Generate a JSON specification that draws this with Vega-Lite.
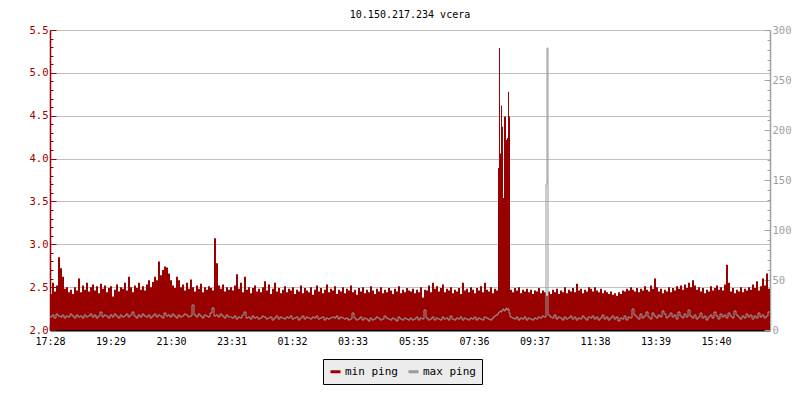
{
"$schema": "https://vega.github.io/schema/vega-lite/v6.json",
"autosize": {"type": "none"},
"padding": {"left": 50, "top": 30, "right": 30, "bottom": 70},
"width": 720,
"height": 300,
"title": {"text": "10.150.217.234 vcera", "font": "DejaVu Sans Mono", "fontSize": 10, "fontWeight": "normal", "color": "black", "anchor": "middle", "offset": 5},
"config": {"view": {"stroke": null}, "font": "DejaVu Sans Mono"},
"data": {"values": [
{"m":0,"mn":2.42,"mx":13},{"m":4,"mn":2.55,"mx":15},{"m":8,"mn":2.45,"mx":12},{"m":12,"mn":2.52,"mx":16},{"m":16,"mn":2.85,"mx":14},{"m":20,"mn":2.72,"mx":13},{"m":24,"mn":2.62,"mx":15},{"m":28,"mn":2.48,"mx":12},{"m":32,"mn":2.50,"mx":14},{"m":36,"mn":2.44,"mx":13},
{"m":40,"mn":2.47,"mx":16},{"m":44,"mn":2.42,"mx":14},{"m":48,"mn":2.50,"mx":12},{"m":52,"mn":2.46,"mx":15},{"m":56,"mn":2.60,"mx":13},{"m":60,"mn":2.44,"mx":14},{"m":64,"mn":2.52,"mx":12},{"m":68,"mn":2.47,"mx":15},{"m":72,"mn":2.55,"mx":13},{"m":76,"mn":2.45,"mx":14},
{"m":80,"mn":2.50,"mx":16},{"m":84,"mn":2.53,"mx":13},{"m":88,"mn":2.46,"mx":15},{"m":92,"mn":2.51,"mx":12},{"m":96,"mn":2.43,"mx":14},{"m":100,"mn":2.54,"mx":18},{"m":104,"mn":2.48,"mx":13},{"m":108,"mn":2.52,"mx":15},{"m":112,"mn":2.44,"mx":14},{"m":116,"mn":2.49,"mx":12},
{"m":120,"mn":2.51,"mx":15},{"m":124,"mn":2.39,"mx":13},{"m":128,"mn":2.47,"mx":16},{"m":132,"mn":2.53,"mx":14},{"m":136,"mn":2.45,"mx":12},{"m":140,"mn":2.50,"mx":15},{"m":144,"mn":2.48,"mx":13},{"m":148,"mn":2.55,"mx":14},{"m":152,"mn":2.46,"mx":16},{"m":156,"mn":2.62,"mx":13},
{"m":160,"mn":2.50,"mx":15},{"m":164,"mn":2.44,"mx":18},{"m":168,"mn":2.52,"mx":14},{"m":172,"mn":2.49,"mx":12},{"m":176,"mn":2.55,"mx":15},{"m":180,"mn":2.47,"mx":13},{"m":184,"mn":2.51,"mx":16},{"m":188,"mn":2.46,"mx":14},{"m":192,"mn":2.53,"mx":13},{"m":196,"mn":2.58,"mx":15},
{"m":200,"mn":2.50,"mx":12},{"m":204,"mn":2.56,"mx":14},{"m":208,"mn":2.62,"mx":16},{"m":212,"mn":2.58,"mx":13},{"m":216,"mn":2.80,"mx":15},{"m":220,"mn":2.64,"mx":14},{"m":224,"mn":2.70,"mx":12},{"m":228,"mn":2.74,"mx":17},{"m":232,"mn":2.73,"mx":14},{"m":236,"mn":2.66,"mx":15},
{"m":240,"mn":2.58,"mx":13},{"m":244,"mn":2.52,"mx":16},{"m":248,"mn":2.49,"mx":14},{"m":252,"mn":2.62,"mx":12},{"m":256,"mn":2.58,"mx":15},{"m":260,"mn":2.50,"mx":13},{"m":264,"mn":2.53,"mx":14},{"m":268,"mn":2.46,"mx":16},{"m":272,"mn":2.55,"mx":15},{"m":276,"mn":2.48,"mx":13},
{"m":280,"mn":2.59,"mx":14},{"m":284,"mn":2.50,"mx":25},{"m":288,"mn":2.45,"mx":15},{"m":292,"mn":2.52,"mx":13},{"m":296,"mn":2.48,"mx":16},{"m":300,"mn":2.54,"mx":14},{"m":304,"mn":2.44,"mx":12},{"m":308,"mn":2.50,"mx":15},{"m":312,"mn":2.47,"mx":14},{"m":316,"mn":2.51,"mx":13},
{"m":320,"mn":2.49,"mx":17},{"m":324,"mn":2.46,"mx":22},{"m":328,"mn":3.07,"mx":14},{"m":332,"mn":2.78,"mx":15},{"m":336,"mn":2.52,"mx":13},{"m":340,"mn":2.48,"mx":16},{"m":344,"mn":2.53,"mx":14},{"m":348,"mn":2.45,"mx":12},{"m":352,"mn":2.50,"mx":15},{"m":356,"mn":2.47,"mx":13},
{"m":360,"mn":2.50,"mx":13},{"m":364,"mn":2.46,"mx":12},{"m":368,"mn":2.52,"mx":14},{"m":372,"mn":2.65,"mx":11},{"m":376,"mn":2.48,"mx":13},{"m":380,"mn":2.55,"mx":12},{"m":384,"mn":2.44,"mx":15},{"m":388,"mn":2.62,"mx":18},{"m":392,"mn":2.47,"mx":12},{"m":396,"mn":2.50,"mx":13},
{"m":400,"mn":2.43,"mx":11},{"m":404,"mn":2.49,"mx":14},{"m":408,"mn":2.52,"mx":12},{"m":412,"mn":2.45,"mx":13},{"m":416,"mn":2.48,"mx":11},{"m":420,"mn":2.44,"mx":12},{"m":424,"mn":2.50,"mx":14},{"m":428,"mn":2.57,"mx":13},{"m":432,"mn":2.46,"mx":11},{"m":436,"mn":2.53,"mx":12},
{"m":440,"mn":2.42,"mx":13},{"m":444,"mn":2.48,"mx":10},{"m":448,"mn":2.55,"mx":12},{"m":452,"mn":2.45,"mx":14},{"m":456,"mn":2.49,"mx":11},{"m":460,"mn":2.43,"mx":13},{"m":464,"mn":2.47,"mx":12},{"m":468,"mn":2.51,"mx":11},{"m":472,"mn":2.44,"mx":13},{"m":476,"mn":2.48,"mx":12},
{"m":480,"mn":2.46,"mx":14},{"m":484,"mn":2.50,"mx":11},{"m":488,"mn":2.42,"mx":12},{"m":492,"mn":2.47,"mx":13},{"m":496,"mn":2.45,"mx":10},{"m":500,"mn":2.52,"mx":12},{"m":504,"mn":2.43,"mx":14},{"m":508,"mn":2.49,"mx":11},{"m":512,"mn":2.46,"mx":13},{"m":516,"mn":2.44,"mx":12},
{"m":520,"mn":2.50,"mx":11},{"m":524,"mn":2.41,"mx":13},{"m":528,"mn":2.47,"mx":12},{"m":532,"mn":2.52,"mx":14},{"m":536,"mn":2.45,"mx":11},{"m":540,"mn":2.49,"mx":12},{"m":544,"mn":2.43,"mx":13},{"m":548,"mn":2.47,"mx":10},{"m":552,"mn":2.53,"mx":12},{"m":556,"mn":2.44,"mx":11},
{"m":560,"mn":2.48,"mx":12},{"m":564,"mn":2.46,"mx":13},{"m":568,"mn":2.51,"mx":12},{"m":572,"mn":2.42,"mx":14},{"m":576,"mn":2.47,"mx":11},{"m":580,"mn":2.45,"mx":13},{"m":584,"mn":2.50,"mx":12},{"m":588,"mn":2.43,"mx":11},{"m":592,"mn":2.48,"mx":12},{"m":596,"mn":2.46,"mx":10},
{"m":600,"mn":2.52,"mx":11},{"m":604,"mn":2.44,"mx":17},{"m":608,"mn":2.47,"mx":12},{"m":612,"mn":2.41,"mx":10},{"m":616,"mn":2.49,"mx":11},{"m":620,"mn":2.45,"mx":13},{"m":624,"mn":2.50,"mx":10},{"m":628,"mn":2.43,"mx":12},{"m":632,"mn":2.47,"mx":11},{"m":636,"mn":2.44,"mx":9},
{"m":640,"mn":2.51,"mx":12},{"m":644,"mn":2.46,"mx":10},{"m":648,"mn":2.42,"mx":11},{"m":652,"mn":2.48,"mx":13},{"m":656,"mn":2.45,"mx":12},{"m":660,"mn":2.50,"mx":10},{"m":664,"mn":2.43,"mx":11},{"m":668,"mn":2.47,"mx":14},{"m":672,"mn":2.44,"mx":12},{"m":676,"mn":2.49,"mx":11},
{"m":680,"mn":2.46,"mx":10},{"m":684,"mn":2.42,"mx":12},{"m":688,"mn":2.48,"mx":11},{"m":692,"mn":2.45,"mx":9},{"m":696,"mn":2.51,"mx":13},{"m":700,"mn":2.43,"mx":11},{"m":704,"mn":2.47,"mx":10},{"m":708,"mn":2.44,"mx":12},{"m":712,"mn":2.49,"mx":11},{"m":716,"mn":2.46,"mx":10},
{"m":720,"mn":2.45,"mx":12},{"m":724,"mn":2.48,"mx":10},{"m":728,"mn":2.43,"mx":11},{"m":732,"mn":2.47,"mx":13},{"m":736,"mn":2.44,"mx":10},{"m":740,"mn":2.50,"mx":12},{"m":744,"mn":2.38,"mx":11},{"m":748,"mn":2.47,"mx":20},{"m":752,"mn":2.46,"mx":12},{"m":756,"mn":2.52,"mx":10},
{"m":760,"mn":2.44,"mx":11},{"m":764,"mn":2.55,"mx":13},{"m":768,"mn":2.48,"mx":10},{"m":772,"mn":2.51,"mx":12},{"m":776,"mn":2.45,"mx":11},{"m":780,"mn":2.49,"mx":10},{"m":784,"mn":2.53,"mx":13},{"m":788,"mn":2.44,"mx":11},{"m":792,"mn":2.48,"mx":12},{"m":796,"mn":2.46,"mx":10},
{"m":800,"mn":2.50,"mx":14},{"m":804,"mn":2.43,"mx":11},{"m":808,"mn":2.47,"mx":10},{"m":812,"mn":2.45,"mx":12},{"m":816,"mn":2.49,"mx":11},{"m":820,"mn":2.42,"mx":13},{"m":824,"mn":2.55,"mx":10},{"m":828,"mn":2.46,"mx":12},{"m":832,"mn":2.48,"mx":11},{"m":836,"mn":2.44,"mx":10},
{"m":840,"mn":2.50,"mx":12},{"m":844,"mn":2.47,"mx":11},{"m":848,"mn":2.43,"mx":13},{"m":852,"mn":2.49,"mx":10},{"m":856,"mn":2.46,"mx":12},{"m":860,"mn":2.51,"mx":11},{"m":864,"mn":2.44,"mx":10},{"m":868,"mn":2.55,"mx":13},{"m":872,"mn":2.47,"mx":12},{"m":876,"mn":2.45,"mx":11},
{"m":880,"mn":2.50,"mx":10},{"m":884,"mn":2.43,"mx":12},{"m":888,"mn":2.48,"mx":14},{"m":892,"mn":2.46,"mx":15},
{"m":896,"mn":3.89,"mx":17},{"m":898,"mn":5.29,"mx":18},{"m":900,"mn":4.06,"mx":19},{"m":902,"mn":4.62,"mx":18},{"m":904,"mn":4.37,"mx":20},{"m":906,"mn":3.54,"mx":21},{"m":908,"mn":4.49,"mx":19},{"m":910,"mn":4.49,"mx":20},{"m":912,"mn":4.22,"mx":22},{"m":914,"mn":4.24,"mx":20},{"m":916,"mn":4.78,"mx":21},{"m":918,"mn":4.49,"mx":17},
{"m":920,"mn":2.47,"mx":13},{"m":924,"mn":2.44,"mx":12},{"m":928,"mn":2.49,"mx":11},{"m":932,"mn":2.46,"mx":13},{"m":936,"mn":2.50,"mx":10},{"m":940,"mn":2.43,"mx":12},{"m":944,"mn":2.47,"mx":11},{"m":948,"mn":2.45,"mx":13},{"m":952,"mn":2.48,"mx":10},{"m":956,"mn":2.44,"mx":12},
{"m":960,"mn":2.47,"mx":11},{"m":964,"mn":2.42,"mx":10},{"m":968,"mn":2.46,"mx":12},{"m":972,"mn":2.45,"mx":11},{"m":976,"mn":2.49,"mx":13},{"m":980,"mn":2.43,"mx":12},{"m":984,"mn":2.46,"mx":14},{"m":988,"mn":2.44,"mx":13},{"m":992,"mn":2.40,"mx":146},{"m":994,"mn":2.40,"mx":282},{"m":996,"mn":2.45,"mx":15},
{"m":1000,"mn":2.42,"mx":13},{"m":1004,"mn":2.47,"mx":12},{"m":1008,"mn":2.44,"mx":15},{"m":1012,"mn":2.48,"mx":11},{"m":1016,"mn":2.42,"mx":13},{"m":1020,"mn":2.46,"mx":12},{"m":1024,"mn":2.44,"mx":10},{"m":1028,"mn":2.50,"mx":13},{"m":1032,"mn":2.43,"mx":11},{"m":1036,"mn":2.47,"mx":12},
{"m":1040,"mn":2.45,"mx":14},{"m":1044,"mn":2.49,"mx":11},{"m":1048,"mn":2.44,"mx":13},{"m":1052,"mn":2.54,"mx":10},{"m":1056,"mn":2.46,"mx":12},{"m":1060,"mn":2.48,"mx":11},{"m":1064,"mn":2.43,"mx":14},{"m":1068,"mn":2.47,"mx":12},{"m":1072,"mn":2.45,"mx":10},{"m":1076,"mn":2.50,"mx":13},
{"m":1080,"mn":2.48,"mx":12},{"m":1084,"mn":2.45,"mx":14},{"m":1088,"mn":2.50,"mx":11},{"m":1092,"mn":2.46,"mx":13},{"m":1096,"mn":2.44,"mx":10},{"m":1100,"mn":2.48,"mx":12},{"m":1104,"mn":2.43,"mx":15},{"m":1108,"mn":2.46,"mx":11},{"m":1112,"mn":2.44,"mx":13},{"m":1116,"mn":2.42,"mx":10},
{"m":1120,"mn":2.45,"mx":12},{"m":1124,"mn":2.41,"mx":14},{"m":1128,"mn":2.43,"mx":11},{"m":1132,"mn":2.40,"mx":13},{"m":1136,"mn":2.44,"mx":9},{"m":1140,"mn":2.42,"mx":12},{"m":1144,"mn":2.46,"mx":11},{"m":1148,"mn":2.45,"mx":14},{"m":1152,"mn":2.48,"mx":10},{"m":1156,"mn":2.46,"mx":13},
{"m":1160,"mn":2.50,"mx":12},{"m":1164,"mn":2.47,"mx":21},{"m":1168,"mn":2.45,"mx":15},{"m":1172,"mn":2.49,"mx":13},{"m":1176,"mn":2.44,"mx":11},{"m":1180,"mn":2.48,"mx":16},{"m":1184,"mn":2.46,"mx":12},{"m":1188,"mn":2.51,"mx":14},{"m":1192,"mn":2.47,"mx":18},{"m":1196,"mn":2.45,"mx":13},
{"m":1200,"mn":2.52,"mx":11},{"m":1204,"mn":2.48,"mx":17},{"m":1208,"mn":2.60,"mx":14},{"m":1212,"mn":2.50,"mx":12},{"m":1216,"mn":2.45,"mx":15},{"m":1220,"mn":2.48,"mx":13},{"m":1224,"mn":2.43,"mx":19},{"m":1228,"mn":2.47,"mx":16},{"m":1232,"mn":2.45,"mx":12},{"m":1236,"mn":2.50,"mx":14},
{"m":1240,"mn":2.44,"mx":17},{"m":1244,"mn":2.49,"mx":13},{"m":1248,"mn":2.46,"mx":15},{"m":1252,"mn":2.51,"mx":11},{"m":1256,"mn":2.48,"mx":18},{"m":1260,"mn":2.52,"mx":14},{"m":1264,"mn":2.47,"mx":12},{"m":1268,"mn":2.53,"mx":16},{"m":1272,"mn":2.49,"mx":13},{"m":1276,"mn":2.55,"mx":20},
{"m":1280,"mn":2.50,"mx":14},{"m":1284,"mn":2.58,"mx":12},{"m":1288,"mn":2.52,"mx":15},{"m":1292,"mn":2.47,"mx":11},{"m":1296,"mn":2.50,"mx":13},{"m":1300,"mn":2.45,"mx":17},{"m":1304,"mn":2.49,"mx":12},{"m":1308,"mn":2.43,"mx":14},{"m":1312,"mn":2.47,"mx":10},{"m":1316,"mn":2.45,"mx":13},
{"m":1320,"mn":2.51,"mx":15},{"m":1324,"mn":2.46,"mx":12},{"m":1328,"mn":2.49,"mx":18},{"m":1332,"mn":2.52,"mx":14},{"m":1336,"mn":2.47,"mx":11},{"m":1340,"mn":2.50,"mx":16},{"m":1344,"mn":2.46,"mx":13},{"m":1348,"mn":2.53,"mx":15},{"m":1352,"mn":2.76,"mx":12},{"m":1356,"mn":2.55,"mx":17},
{"m":1360,"mn":2.45,"mx":14},{"m":1364,"mn":2.49,"mx":12},{"m":1368,"mn":2.43,"mx":19},{"m":1372,"mn":2.47,"mx":15},{"m":1376,"mn":2.45,"mx":13},{"m":1380,"mn":2.50,"mx":11},{"m":1384,"mn":2.44,"mx":14},{"m":1388,"mn":2.48,"mx":12},{"m":1392,"mn":2.46,"mx":16},{"m":1396,"mn":2.50,"mx":13},
{"m":1400,"mn":2.47,"mx":15},{"m":1404,"mn":2.53,"mx":11},{"m":1408,"mn":2.49,"mx":14},{"m":1412,"mn":2.57,"mx":12},{"m":1416,"mn":2.46,"mx":17},{"m":1420,"mn":2.51,"mx":13},{"m":1424,"mn":2.60,"mx":15},{"m":1428,"mn":2.52,"mx":12},{"m":1432,"mn":2.66,"mx":14},{"m":1436,"mn":2.48,"mx":18},
{"m":1440,"mn":2.48,"mx":18}
]},
"layer": [
{
"mark": {"type": "area", "interpolate": "step-after", "color": "#990000", "clip": true},
"encoding": {
"x": {"field": "m", "type": "quantitative", "scale": {"domain": [0, 1440], "nice": false, "zero": false},
"axis": {"title": null, "values": [0,121,242,363,484,605,727,848,969,1090,1211,1332],
"labelExpr": "timeFormat(datetime(2000,0,1,17,28+datum.value),'%H:%M')",
"grid": false, "domainColor": "black", "domainWidth": 2, "tickColor": "black", "tickSize": -5, "tickWidth": 1.5,
"labelColor": "black", "labelFont": "DejaVu Sans Mono", "labelFontSize": 10, "labelPadding": 11, "labelFlush": false}},
"y": {"field": "mn", "type": "quantitative", "scale": {"domain": [2, 5.5], "nice": false, "zero": false},
"axis": {"title": null, "values": [2,2.1,2.2,2.3,2.4,2.5,2.6,2.7,2.8,2.9,3,3.1,3.2,3.3,3.4,3.5,3.6,3.7,3.8,3.9,4,4.1,4.2,4.3,4.4,4.5,4.6,4.7,4.8,4.9,5,5.1,5.2,5.3,5.4,5.5],
"labelExpr": "abs(datum.value*2-round(datum.value*2))<0.01 ? format(datum.value,'.1f') : ''",
"grid": true, "gridColor": "#c0c0c0", "gridWidth": 1,
"gridOpacity": {"condition": {"test": "abs(datum.value*2-round(datum.value*2))<0.01", "value": 1}, "value": 0},
"tickSize": {"condition": {"test": "abs(datum.value*2-round(datum.value*2))<0.01", "value": -6}, "value": -3},
"domainColor": "#990000", "domainWidth": 1.5, "tickColor": "#990000", "labelColor": "#990000",
"labelFont": "DejaVu Sans Mono", "labelFontSize": 10.5, "labelPadding": 8, "labelFlush": false}},
"y2": {"datum": 2}
}
},
{
"mark": {"type": "line", "interpolate": "step-after", "strokeWidth": 1, "clip": true},
"encoding": {
"x": {"field": "m", "type": "quantitative"},
"y": {"field": "mx", "type": "quantitative", "scale": {"domain": [0, 300], "nice": false, "zero": true},
"axis": {"title": null, "orient": "right", "values": [0,10,20,30,40,50,60,70,80,90,100,110,120,130,140,150,160,170,180,190,200,210,220,230,240,250,260,270,280,290,300],
"labelExpr": "datum.value % 50 == 0 ? datum.value : ''", "grid": false,
"tickSize": {"condition": {"test": "datum.value % 50 == 0", "value": -6}, "value": -3},
"domainColor": "#a0a0a0", "domainWidth": 1.5, "tickColor": "#a0a0a0", "labelColor": "#a0a0a0",
"labelFont": "DejaVu Sans Mono", "labelFontSize": 10.5, "labelPadding": 8, "labelFlush": false}},
"color": {"datum": "max ping", "type": "nominal",
"scale": {"domain": ["min ping", "max ping"], "range": ["#990000", "#999999"]},
"legend": {"title": null, "orient": "none", "legendX": 273, "legendY": 329, "direction": "horizontal",
"fillColor": "#ececec", "strokeColor": "black", "padding": 6, "symbolType": "stroke", "symbolStrokeWidth": 3, "symbolSize": 100,
"labelFont": "DejaVu Sans Mono", "labelFontSize": 11, "labelColor": "black", "columnPadding": 4, "labelOffset": 3}}
}
}
],
"resolve": {"scale": {"y": "independent"}, "axis": {"y": "independent"}}
}
